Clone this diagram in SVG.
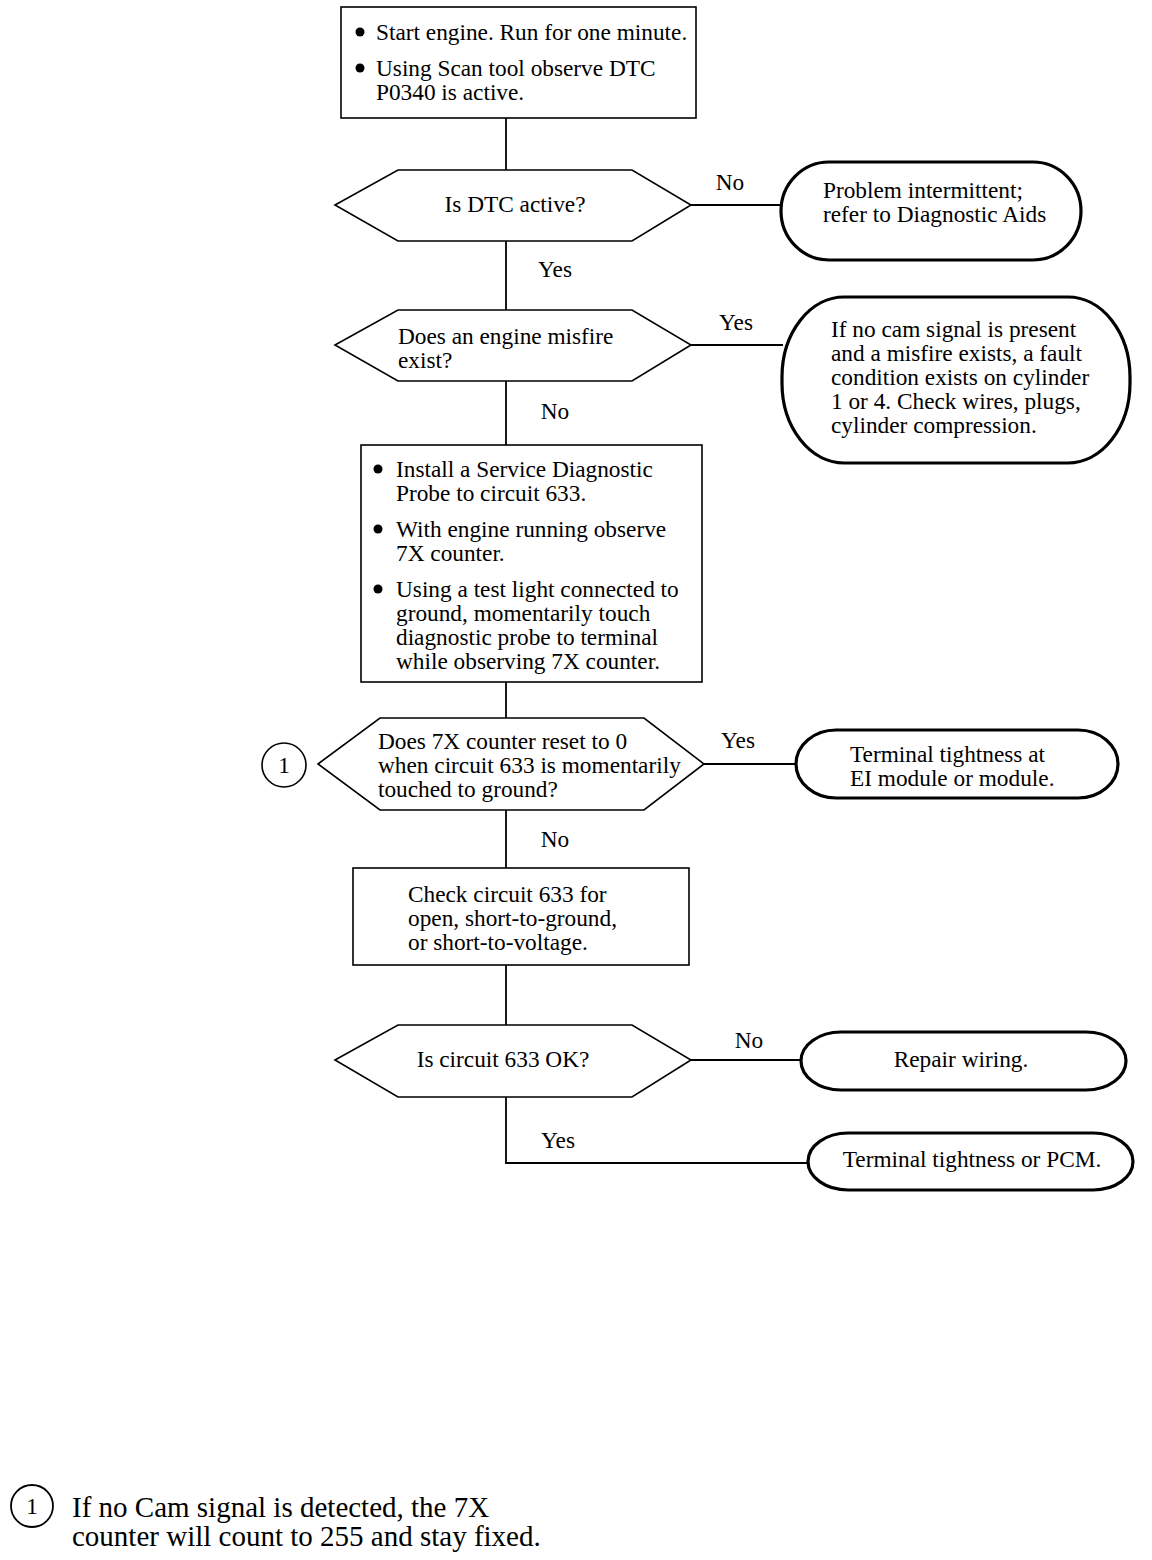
<svg xmlns="http://www.w3.org/2000/svg" width="1152" height="1560" viewBox="0 0 1152 1560">
<style>
text{font-family:"Liberation Serif","Times New Roman",serif;font-size:23.3px;fill:#000}
.box{fill:#fff;stroke:#000;stroke-width:1.6}
.dec{fill:#fff;stroke:#000;stroke-width:1.6}
.term{fill:#fff;stroke:#000;stroke-width:3.2}
.ln{fill:none;stroke:#000;stroke-width:1.8}
.mid{text-anchor:middle}
.foot{font-size:29px}
</style>
<rect width="1152" height="1560" fill="#fff"/>
<g id="connectors">
<line class="ln" x1="506" y1="118" x2="506" y2="170"/>
<line class="ln" x1="506" y1="241" x2="506" y2="310"/>
<line class="ln" x1="506" y1="381" x2="506" y2="445"/>
<line class="ln" x1="506" y1="682" x2="506" y2="718"/>
<line class="ln" x1="506" y1="810" x2="506" y2="868"/>
<line class="ln" x1="506" y1="965" x2="506" y2="1025"/>
<polyline class="ln" points="506,1097 506,1163 808,1163"/>
<line class="ln" x1="691" y1="205" x2="782" y2="205"/>
<line class="ln" x1="691" y1="345" x2="783" y2="345"/>
<line class="ln" x1="704" y1="764" x2="797" y2="764"/>
<line class="ln" x1="691" y1="1060" x2="802" y2="1060"/>
<text x="730" y="190" class="mid">No</text>
<text x="555" y="277" class="mid">Yes</text>
<text x="736" y="330" class="mid">Yes</text>
<text x="555" y="419" class="mid">No</text>
<text x="738" y="748" class="mid">Yes</text>
<text x="555" y="847" class="mid">No</text>
<text x="749" y="1048" class="mid">No</text>
<text x="558" y="1148" class="mid">Yes</text>
</g>
<g id="start">
<rect class="box" x="341" y="7" width="355" height="111"/>
<circle cx="360" cy="32" r="4.5"/>
<circle cx="360" cy="68" r="4.5"/>
<text x="376" y="40">Start engine. Run for one minute.</text>
<text x="376" y="76">Using Scan tool observe DTC</text>
<text x="376" y="100">P0340 is active.</text>
</g>
<g id="q1">
<polygon class="dec" points="335,205 398,170 632,170 691,205 632,241 398,241"/>
<text x="515" y="212" class="mid">Is DTC active?</text>
</g>
<g id="t1">
<rect class="term" x="781" y="162" width="300" height="98" rx="48" ry="49"/>
<text x="823" y="198">Problem intermittent;</text>
<text x="823" y="222">refer to Diagnostic Aids</text>
</g>
<g id="q2">
<polygon class="dec" points="335,345 398,310 632,310 691,345 632,381 398,381"/>
<text x="398" y="344">Does an engine misfire</text>
<text x="398" y="368">exist?</text>
</g>
<g id="t2">
<rect class="term" x="782" y="297" width="348" height="166" rx="62" ry="80"/>
<text x="831" y="337">If no cam signal is present</text>
<text x="831" y="361">and a misfire exists, a fault</text>
<text x="831" y="385">condition exists on cylinder</text>
<text x="831" y="409">1 or 4. Check wires, plugs,</text>
<text x="831" y="433">cylinder compression.</text>
</g>
<g id="probe">
<rect class="box" x="361" y="445" width="341" height="237"/>
<circle cx="378" cy="469" r="4.5"/>
<circle cx="378" cy="529" r="4.5"/>
<circle cx="378" cy="589" r="4.5"/>
<text x="396" y="477">Install a Service Diagnostic</text>
<text x="396" y="501">Probe to circuit 633.</text>
<text x="396" y="537">With engine running observe</text>
<text x="396" y="561">7X counter.</text>
<text x="396" y="597">Using a test light connected to</text>
<text x="396" y="621">ground, momentarily touch</text>
<text x="396" y="645">diagnostic probe to terminal</text>
<text x="396" y="669">while observing 7X counter.</text>
</g>
<g id="q3">
<polygon class="dec" points="318,764 380,718 644,718 704,764 644,810 380,810"/>
<text x="378" y="749">Does 7X counter reset to 0</text>
<text x="378" y="773">when circuit 633 is momentarily</text>
<text x="378" y="797">touched to ground?</text>
</g>
<g id="ref1">
<circle cx="284" cy="765" r="22" fill="#fff" stroke="#000" stroke-width="1.6"/>
<text x="284" y="773" class="mid">1</text>
</g>
<g id="t3">
<rect class="term" x="796" y="730" width="322" height="68" rx="40" ry="34"/>
<text x="850" y="762">Terminal tightness at</text>
<text x="850" y="786">EI module or module.</text>
</g>
<g id="check">
<rect class="box" x="353" y="868" width="336" height="97"/>
<text x="408" y="902">Check circuit 633 for</text>
<text x="408" y="926">open, short-to-ground,</text>
<text x="408" y="950">or short-to-voltage.</text>
</g>
<g id="q4">
<polygon class="dec" points="335,1060 398,1025 632,1025 691,1060 632,1097 398,1097"/>
<text x="503" y="1067" class="mid">Is circuit 633 OK?</text>
</g>
<g id="t4">
<rect class="term" x="801" y="1032" width="325" height="58" rx="40" ry="29"/>
<text x="961" y="1067" class="mid">Repair wiring.</text>
</g>
<g id="t5">
<rect class="term" x="808" y="1133" width="325" height="57" rx="40" ry="28.5"/>
<text x="972" y="1167" class="mid">Terminal tightness or PCM.</text>
</g>
<g id="footnote">
<circle cx="32" cy="1506" r="21" fill="#fff" stroke="#000" stroke-width="1.8"/>
<text x="32" y="1514" class="mid">1</text>
<text x="72" y="1517" class="foot">If no Cam signal is detected, the 7X</text>
<text x="72" y="1546" class="foot">counter will count to 255 and stay fixed.</text>
</g>
</svg>
